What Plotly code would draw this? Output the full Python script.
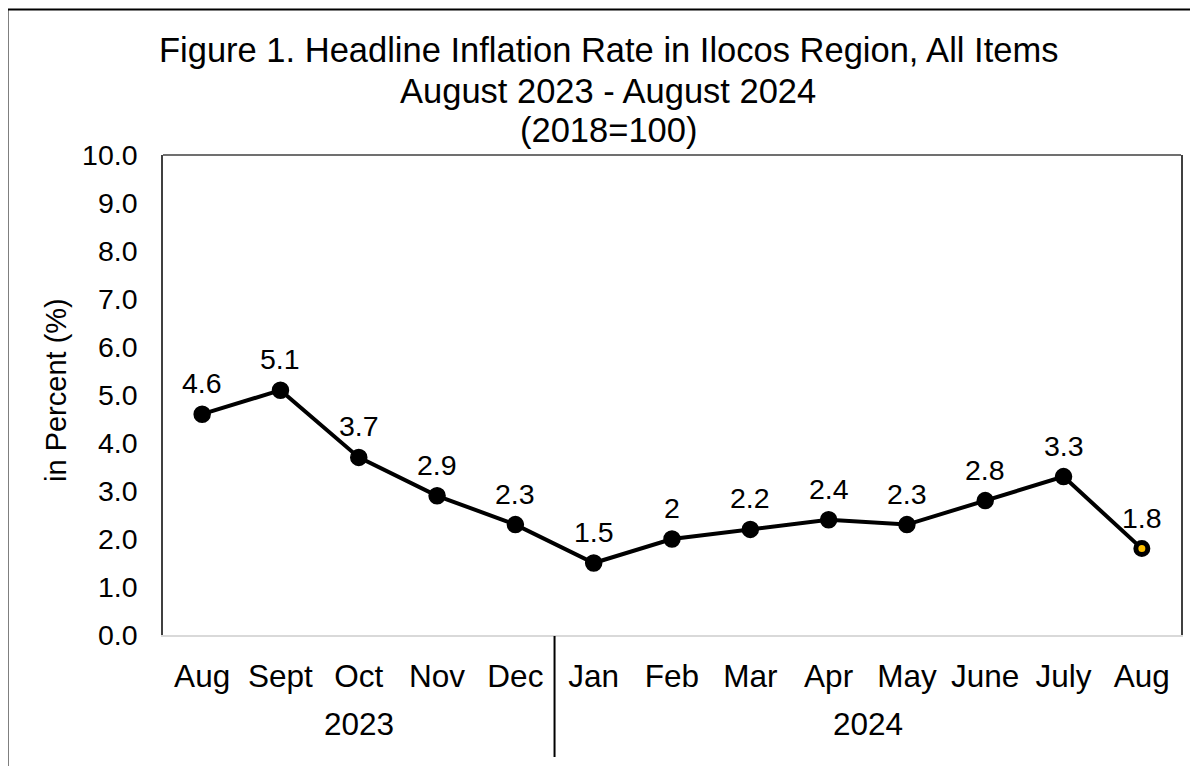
import plotly.graph_objects as go

months = ["Aug", "Sept", "Oct", "Nov", "Dec", "Jan", "Feb", "Mar", "Apr", "May", "June", "July", "Aug"]
years = ["2023", "2024"]
year_counts = [5, 8]
values = [4.6, 5.1, 3.7, 2.9, 2.3, 1.5, 2.0, 2.2, 2.4, 2.3, 2.8, 3.3, 1.8]
value_labels = ["4.6", "5.1", "3.7", "2.9", "2.3", "1.5", "2", "2.2", "2.4", "2.3", "2.8", "3.3", "1.8"]
y_ticks = [0, 1, 2, 3, 4, 5, 6, 7, 8, 9, 10]
title_lines = ["Figure 1. Headline Inflation Rate in Ilocos Region, All Items",
               "August 2023 - August 2024",
               "(2018=100)"]
y_title = "in Percent (%)"

FONT = "Liberation Sans, Arial, sans-serif"
OFF = 8  # page body margin
W, H = 1198 - OFF, 766 - OFF
# target plot area in page pixels: x 163..1181, y 155..635
L, R = 163 - OFF, 1198 - 1181
T, B = 155 - OFF, 766 - 635
PW, PH = W - L - R, H - T - B

def px_to_paper_x(px):
    return (px - OFF - L) / PW

def px_to_paper_y(py):
    return (H - B - (py - OFF)) / PH

x = list(range(len(months)))

n = len(values)
marker_colors = ["black"] * (n - 1) + ["#FFC000"]
marker_sizes = [16] * (n - 1) + [12]
marker_lw = [1.5] * (n - 1) + [5]

fig = go.Figure()
fig.add_trace(go.Scatter(
    x=x, y=values, mode="lines+markers",
    line=dict(color="black", width=4),
    marker=dict(color=marker_colors, size=marker_sizes, opacity=1,
                line=dict(color="black", width=marker_lw)),
    hoverinfo="skip", showlegend=False,
))

annotations = []
for xi, v, lab in zip(x, values, value_labels):
    annotations.append(dict(x=xi, y=v, xref="x", yref="y", text=lab, showarrow=False,
                            yshift=31, yanchor="middle", xanchor="center",
                            font=dict(family=FONT, size=28.5, color="black")))

# year group labels
start = 0
for yr, cnt in zip(years, year_counts):
    center = start + (cnt - 1) / 2
    annotations.append(dict(x=center, y=px_to_paper_y(724), xref="x", yref="paper",
                            text=yr, showarrow=False, yanchor="middle", xanchor="center",
                            font=dict(family=FONT, size=31.5, color="black")))
    start += cnt

# title lines
for line, ypx in zip(title_lines, [50, 91, 130]):
    annotations.append(dict(x=px_to_paper_x(608), y=px_to_paper_y(ypx), xref="paper", yref="paper",
                            text=line, showarrow=False, yanchor="middle", xanchor="center",
                            font=dict(family=FONT, size=34.5, color="black")))

# y axis title
annotations.append(dict(x=px_to_paper_x(56), y=px_to_paper_y(390), xref="paper", yref="paper",
                        text=y_title, showarrow=False, textangle=-90,
                        xanchor="center", yanchor="middle",
                        font=dict(family=FONT, size=29, color="black")))

shapes = [
    # separator between years
    dict(type="line", xref="x", yref="paper", x0=year_counts[0] - 0.5, x1=year_counts[0] - 0.5,
         y0=px_to_paper_y(636), y1=px_to_paper_y(757), line=dict(color="black", width=2)),
    # top border of plot area
    dict(type="line", xref="paper", yref="paper", x0=0, x1=1, y0=1, y1=1,
         line=dict(color="#404040", width=1.5)),
    # outer chart border
    dict(type="rect", xref="paper", yref="paper",
         x0=px_to_paper_x(7.5), x1=px_to_paper_x(1215),
         y0=px_to_paper_y(790), y1=px_to_paper_y(9.5),
         line=dict(color="black", width=2)),
]

fig.update_layout(
    width=W, height=H,
    margin=dict(l=L, r=R, t=T, b=B),
    paper_bgcolor="white", plot_bgcolor="white",
    font=dict(family=FONT, color="black"),
    annotations=annotations, shapes=shapes,
    xaxis=dict(range=[-0.5, n - 0.5], tickmode="array", tickvals=x, ticktext=months,
               showgrid=False, zeroline=False, showline=True, linecolor="#d9d9d9", linewidth=2,
               ticks="", tickfont=dict(family=FONT, size=31.5, color="black"),
               ticklabelstandoff=12, fixedrange=True),
    yaxis=dict(range=[0, 10], tickmode="array", tickvals=y_ticks,
               ticktext=[f"{t:.1f}" for t in y_ticks],
               showgrid=False, zeroline=False, showline=True, mirror=True,
               linecolor="#404040", linewidth=1.5, ticks="",
               tickfont=dict(family=FONT, size=28.5, color="black"),
               ticklabelstandoff=18, fixedrange=True),
)

fig.write_html("out.html")
